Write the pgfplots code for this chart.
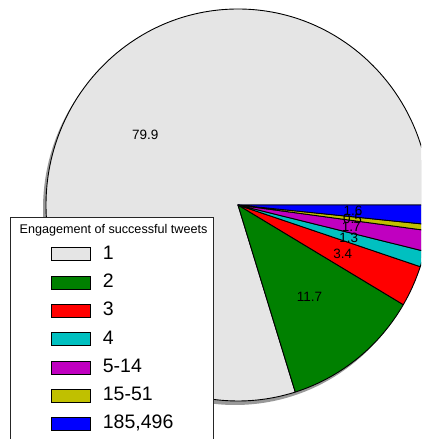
\documentclass[border=0pt]{standalone}
\usepackage{fontspec}
\setmainfont{Liberation Sans}
\usepackage{pgfplots}
\usepackage{pgfplotstable}
\pgfplotsset{compat=1.18}

\definecolor{pgray}{HTML}{E5E5E5}
\definecolor{pgreen}{HTML}{008000}
\definecolor{pred}{HTML}{FF0000}
\definecolor{pcyan}{HTML}{00C0C0}
\definecolor{pmagenta}{HTML}{C000C0}
\definecolor{pyellow}{HTML}{C0C000}
\definecolor{pblue}{HTML}{0000FF}

\pgfplotstableread{
label value colour
1 79.9 pgray
2 11.7 pgreen
3 3.4 pred
4 1.3 pcyan
5-14 1.7 pmagenta
15-51 0.5 pyellow
185496 1.6 pblue
}\piedata

\newcommand\labelfont{\fontsize{13.5}{15}\selectfont}
\def\cx{238}
\def\cy{234}
\def\rx{192}
\def\ry{196}

\begin{document}
\begin{tikzpicture}
\begin{axis}[
  at={(0,0)}, anchor=south west,
  scale only axis, width=421pt, height=439pt,
  xmin=0, xmax=421, ymin=0, ymax=439,
  axis lines=none, ticks=none, clip=true,
  clip bounding box=upper bound,
  legend image code/.code={\draw[#1, draw=black, line width=0.7pt] (0pt,-6.5pt) rectangle (39pt,6.5pt);},
  legend style={at={(axis cs:51,194)}, anchor=north west,
    draw=none, fill=none, inner xsep=0pt, inner ysep=0pt,
    font=\fontsize{19.5}{21}\selectfont,
    row sep=10.3pt, column sep=12pt,
    nodes={inner sep=0pt, text height=14pt, text depth=4pt}},
  legend cell align=left,
]
\path (axis cs:0,0) rectangle (axis cs:421,439);
% total of the values
\pgfplotstablegetrowsof{\piedata}
\pgfmathtruncatemacro\nrows{\pgfplotsretval-1}
\def\pietotal{0}
\pgfplotsforeachungrouped \ii in {0,...,\nrows}{%
  \pgfplotstablegetelem{\ii}{value}\of\piedata
  \pgfmathsetmacro\pietotal{\pietotal+\pgfplotsretval}%
}
% shadow
\fill[black!40] (axis cs:\cx-3,\cy-4) ellipse [x radius=\rx pt, y radius=\ry pt];
% slices
\def\cum{0}
\pgfplotsforeachungrouped \ii in {0,...,\nrows}{%
  \pgfplotstablegetelem{\ii}{value}\of\piedata\let\sval\pgfplotsretval
  \pgfplotstablegetelem{\ii}{colour}\of\piedata\let\scol\pgfplotsretval
  \pgfmathsetmacro\sa{\cum/\pietotal*360}%
  \pgfmathsetmacro\sb{(\cum+\sval)/\pietotal*360}%
  \pgfmathsetmacro\spx{\cx+\rx*cos(\sa)}%
  \pgfmathsetmacro\spy{\cy+\ry*sin(\sa)}%
  \edef\temp{\noexpand\filldraw[fill=\scol, draw=black, line width=0.9pt, line join=round] (axis cs:\cx,\cy) -- (axis cs:\spx,\spy) arc[start angle=\sa, end angle=\sb, x radius=\rx pt, y radius=\ry pt] -- cycle;}%
  \temp
  \pgfmathsetmacro\cum{\cum+\sval}%
}
% labels
\def\cum{0}
\pgfplotsforeachungrouped \ii in {0,...,\nrows}{%
  \pgfplotstablegetelem{\ii}{value}\of\piedata\let\sval\pgfplotsretval
  \pgfmathsetmacro\smid{(\cum+\sval/2)/\pietotal*360}%
  \pgfmathsetmacro\slx{\cx+0.6*\rx*cos(\smid)}%
  \pgfmathsetmacro\sly{\cy+0.6*\ry*sin(\smid)}%
  \edef\temp{\noexpand\node[font=\noexpand\labelfont, inner sep=0pt] at (axis cs:\slx,\sly) {\sval};}%
  \temp
  \pgfmathsetmacro\cum{\cum+\sval}%
}
% legend frame and title
\filldraw[fill=white, draw=black!85, line width=0.8pt] (axis cs:10,222) rectangle (axis cs:213,-20);
\node[font=\fontsize{12.6}{14}\selectfont, inner sep=0pt] at (axis cs:113.5,209) {Engagement of successful tweets};
\addlegendimage{fill=pgray}\addlegendentry{1}
\addlegendimage{fill=pgreen}\addlegendentry{2}
\addlegendimage{fill=pred}\addlegendentry{3}
\addlegendimage{fill=pcyan}\addlegendentry{4}
\addlegendimage{fill=pmagenta}\addlegendentry{5-14}
\addlegendimage{fill=pyellow}\addlegendentry{15-51}
\addlegendimage{fill=pblue}\addlegendentry{185,496}
\end{axis}
\end{tikzpicture}
\end{document}
